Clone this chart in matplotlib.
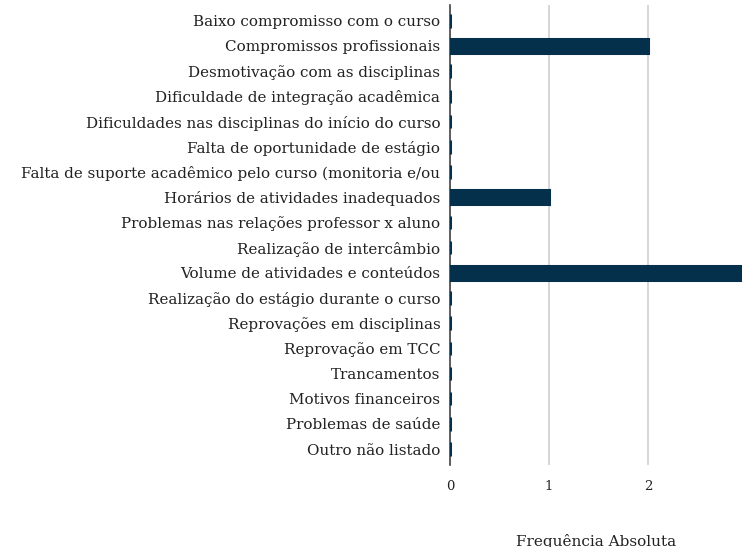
import numpy as np
import matplotlib.pyplot as plt

# categorias e frequencias
motivos = [
    'Baixo compromisso com o curso',
    'Compromissos profissionais',
    'Desmotivação com as disciplinas',
    'Dificuldade de integração acadêmica',
    'Dificuldades nas disciplinas do início do curso',
    'Falta de oportunidade de estágio',
    'Falta de suporte acadêmico pelo curso (monitoria e/ou',
    'Horários de atividades inadequados',
    'Problemas nas relações professor x aluno',
    'Realização de intercâmbio',
    'Volume de atividades e conteúdos',
    'Realização do estágio durante o curso',
    'Reprovações em disciplinas',
    'Reprovação em TCC',
    'Trancamentos',
    'Motivos financeiros',
    'Problemas de saúde',
    'Outro não listado',
]
freq = [0, 2, 0, 0, 0, 0, 0, 1, 0, 0, 3, 0, 0, 0, 0, 0, 0, 0]
xticks = [0, 1, 2]

plt.rcParams['font.family'] = ['DejaVu Serif']
cor = '#05304b'

fig = plt.figure(figsize=(7.42, 5.47), dpi=100)
ax = fig.add_axes([0.6065, 0.15, 0.3935, 0.841])

y = np.arange(len(motivos))
ax.barh(y, freq, height=0.54, color=cor, edgecolor=cor, linewidth=2.2, zorder=5)

ax.set_ylim(len(motivos) - 0.37, -0.63)
ax.set_xlim(0, 2.95)
ax.set_yticks(y)
ax.set_yticklabels(motivos, fontsize=10.9, color='#222222')
ax.set_xticks(xticks)
ax.set_xticklabels([str(t) for t in xticks], fontsize=9.5, color='#222222')
ax.tick_params(axis='both', length=0)
ax.tick_params(axis='x', pad=11)
ax.tick_params(axis='y', pad=7)

ax.grid(axis='x', color='#d0d0d0', linewidth=1.2, zorder=0)
for s in ['top', 'right', 'bottom']:
    ax.spines[s].set_visible(False)
ax.spines['left'].set_color('#444444')
ax.spines['left'].set_linewidth(1.2)
ax.spines['left'].set_zorder(4)

ax.set_xlabel('Frequência Absoluta', fontsize=11, color='#222222', labelpad=29)

fig.savefig('out.png', dpi=100)
